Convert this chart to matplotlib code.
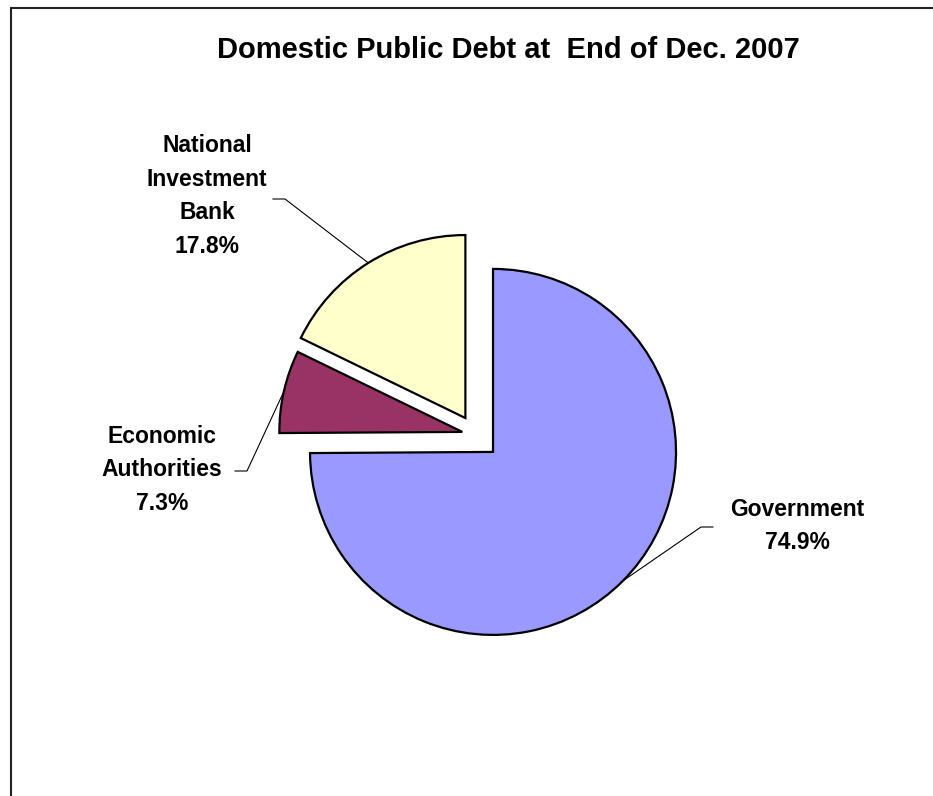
import matplotlib.pyplot as plt
from matplotlib.patches import Rectangle
import numpy as np

plt.rcParams['font.family'] = ['Liberation Sans', 'DejaVu Sans']

sectors = ["Government", "Economic\nAuthorities", "National\nInvestment\nBank"]
shares = [74.9, 7.3, 17.8]
colors = ["#9999FF", "#993366", "#FFFFCC"]
title = "Domestic Public Debt at  End of Dec. 2007"

W, H = 933, 796
fig = plt.figure(figsize=(W / 100, H / 100), dpi=100)
ax = fig.add_axes([0, 0, 1, 1])

# work in pixel units, y measured from the bottom
cx, cy, r = 476, H - 435, 183
explode = [24, 14, 20]
wedges, _ = ax.pie(shares, explode=explode, colors=colors, startangle=90,
                   counterclock=False, radius=r, center=(cx, cy),
                   wedgeprops=dict(edgecolor="black", linewidth=1.6))
ax.set_xlim(0, W)
ax.set_ylim(0, H)
ax.set_aspect("equal")
ax.axis("off")

# chart area border (runs off the right and bottom edges)
ax.add_patch(Rectangle((11, -20), W + 20, H - 8 + 20, fill=False,
                       edgecolor="#222222", linewidth=1.5))

ax.text(508, H - 50, title, ha="center", va="center",
        fontsize=21, fontweight="bold")

# label centre, leader elbow (outer x, inner x, y)
label_pos = [(797, H - 526), (162, H - 470), (207, H - 196)]
leaders = [(713, 701, H - 527), (235, 247, H - 471), (273, 285, H - 199)]

for w, name, share, (tx, ty), (x0, x1, ly) in zip(wedges, sectors, shares,
                                                  label_pos, leaders):
    mid = np.deg2rad((w.theta1 + w.theta2) / 2)
    px = w.center[0] + w.r * np.cos(mid)
    py = w.center[1] + w.r * np.sin(mid)
    ax.plot([x0, x1, px], [ly, ly, py], color="black", lw=0.8)
    ax.text(tx, ty, f"{name}\n{share:.1f}%", ha="center", va="center",
            fontsize=16.5, fontweight="bold", linespacing=1.6)

fig.savefig("out.png", dpi=100)
